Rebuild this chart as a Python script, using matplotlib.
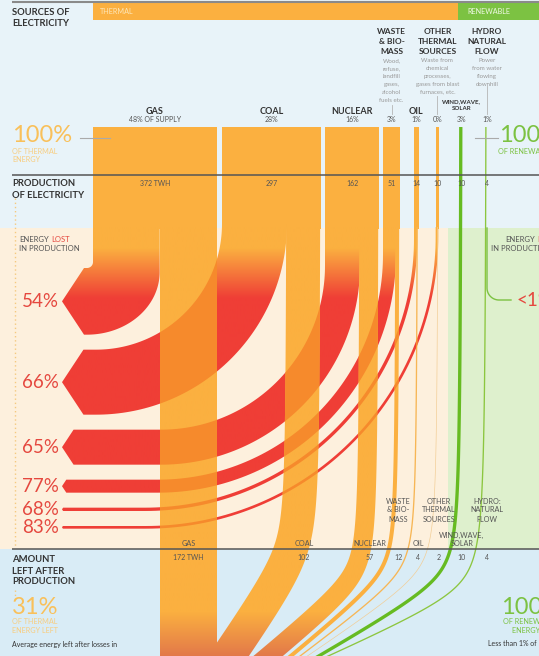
import numpy as np
import matplotlib
matplotlib.use("Agg")
import matplotlib.pyplot as plt
from matplotlib.path import Path
from matplotlib.patches import PathPatch, Rectangle
from matplotlib.colors import to_rgb

plt.rcParams['font.family'] = ['Lato', 'DejaVu Sans']

# ---------------- data ----------------
top_names = [["GAS"], ["COAL"], ["NUCLEAR"], ["WASTE", "& BIO-", "MASS"], ["OIL"],
             ["OTHER", "THERMAL", "SOURCES"], ["WIND,WAVE,", "SOLAR"], ["HYDRO", "NATURAL", "FLOW"]]
bottom_names = [["GAS"], ["COAL"], ["NUCLEAR"], ["WASTE", "& BIO-", "MASS"], ["OIL"],
                ["OTHER", "THERMAL", "SOURCES"], ["WIND,WAVE,", "SOLAR"], ["HYDRO:", "NATURAL", "FLOW"]]
supply_share = ["48% OF SUPPLY", "28%", "16%", "3%", "1%", "0%", "3%", "1%"]
production_twh = [372, 297, 162, 51, 14, 10, 10, 4]
remaining_twh = [172, 102, 57, 12, 4, 2, 10, 4]
loss_pct = [54, 66, 65, 77, 68, 83]
production_labels = ["372 TWH", "297", "162", "51", "14", "10", "10", "4"]
remaining_labels = ["172 TWH", "102", "57", "12", "4", "2", "10", "4"]
descriptions = {
    3: ["Wood,", "refuse,", "landfill", "gases,", "alcohol", "fuels etc."],
    5: ["Waste from", "chemical", "processes,", "gases from blast", "furnaces, etc."],
    7: ["Power", "from water", "flowing", "downhill"],
}

# ---------------- layout ----------------
W, H = 539, 656
PX = 1 / 3.0            # pixels per TWh
X0 = 93
gaps = [5, 4, 4, 14, 17, 21, 23]
Y_BAR, Y_PROD, Y_SPLIT, Y_LEFT = 127, 175, 228, 549
TIP_X = 62
arc_cx = [None, 96, 161, 158, 145, 146]
bend_y = [None, 552, 576, 572, 572, 572, 578, 590]
end_x = [None, 214, 262, 292, 303, 311, 322, 335]
bend_k = [None, 40, 30, 30, 30, 30, 30, 30]

ORANGE = '#fbb040'
RED = '#ef3e36'
OVER = '#f68a2c'
LABEL_RED = '#e5483f'
GREEN = '#7cc242'
strand_cols = [ORANGE, ORANGE, ORANGE, ORANGE, '#f7b655', '#f2cd95', '#66bb22', '#8cc63f']

widths = [v * PX for v in production_twh]
xl = [X0]
for g, w in zip(gaps, widths[:-1]):
    xl.append(xl[-1] + w + g)
loss_w = [(p - r) * PX for p, r in zip(production_twh[:6], remaining_twh[:6])]
y_tops = []
yy = 268
for w in loss_w:
    y_tops.append(yy)
    yy += w + 15

fig = plt.figure(figsize=(W / 100, H / 100), dpi=100)
fig.patch.set_facecolor('#e8f3f9')
ax = fig.add_axes([0, 0, 1, 1])
ax.set_xlim(0, W)
ax.set_ylim(H, 0)
ax.axis('off')
ax.set_autoscale_on(False)


def gradient_fill(patch, y0, y1, c0, c1, z):
    ax.add_patch(patch)
    ys = np.arange(H + 1, dtype=float)
    t = np.clip((ys - y0) / (y1 - y0), 0, 1)[:, None]
    a, b = np.array(to_rgb(c0)), np.array(to_rgb(c1))
    img = (a[None, :] * (1 - t) + b[None, :] * t)[:, None, :]
    img = np.repeat(img, 2, axis=1)
    im = ax.imshow(img, extent=(0, W, H, 0), origin='upper', aspect='auto',
                   interpolation='bilinear', zorder=z)
    im.set_clip_path(patch)
    return im


# ---------------- background ----------------
ax.add_patch(Rectangle((0, Y_SPLIT), 448, Y_LEFT - Y_SPLIT, fc='#fdf0dd', ec='none', zorder=0))
ax.add_patch(Rectangle((448, Y_SPLIT), W - 448, Y_LEFT - Y_SPLIT, fc='#def0cd', ec='none', zorder=0))
ax.add_patch(Rectangle((0, Y_LEFT), W, H - Y_LEFT, fc='#d9ecf6', ec='none', zorder=0))
ax.add_patch(Rectangle((93, 3), 458 - 93, 17, fc=ORANGE, ec='none', zorder=1))
ax.add_patch(Rectangle((458, 3), W - 458, 17, fc=GREEN, ec='none', zorder=1))
ax.plot([12, W], [1.5, 1.5], color='#8a8a8a', lw=1.5, zorder=2, solid_capstyle='butt')

# ---------------- full bars (thermal) ----------------
for i in range(6):
    ax.add_patch(Rectangle((xl[i], Y_BAR), widths[i], Y_SPLIT - Y_BAR + 1, fc=ORANGE, ec='none', zorder=2))

# ---------------- loss bands ----------------
th = np.linspace(0, np.pi / 2, 80)
band_paths = []
for i in range(6):
    xin = xl[i]
    xout = xin + loss_w[i]
    yt = y_tops[i]
    yb = yt + loss_w[i]
    if i == 0:
        cxi, cyi, rxi, ryi = 87, 262, xin - 87, yt - 262
        cxo, cyo, rxo, ryo = 87, 272, xout - 87, yb - 272
    else:
        cx = arc_cx[i]
        r_in = xin - cx
        cy = yt - r_in
        cxi = cxo = cx
        cyi = cyo = cy
        rxi = ryi = r_in
        rxo = ryo = xout - cx
    corner = TIP_X + min(0.33 * loss_w[i], 22)
    ym = (yt + yb) / 2
    pts = [(xin, Y_SPLIT - 1), (xin, cyi)]
    pts += list(zip(cxi + rxi * np.cos(th), cyi + ryi * np.sin(th)))
    pts += [(corner, yt), (TIP_X, ym), (corner, yb)]
    pts += list(zip(cxo + rxo * np.cos(th[::-1]), cyo + ryo * np.sin(th[::-1])))
    pts += [(xout, cyo), (xout, Y_SPLIT - 1), (xin, Y_SPLIT - 1)]
    path = Path(pts, closed=True)
    band_paths.append(path)
    bp = PathPatch(path, fc='none', ec='none', transform=ax.transData)
    gradient_fill(bp, 248, 298, ORANGE, RED, 3)
    ax.text(22, ym, f"{loss_pct[i]}%", fontsize=13.5, color=LABEL_RED, ha='left',
            va='center', zorder=8)

# ---------------- remaining strands ----------------
strand_patches = []
for i in range(8):
    L = xl[i] + (loss_w[i] if i < 6 else 0)
    w = remaining_twh[i] * PX
    c0 = L + w / 2
    y_start = Y_SPLIT - 1 if i < 6 else Y_BAR
    ys = np.linspace(y_start, H + 10, 500)
    if bend_y[i] is None:
        xs = np.full_like(ys, c0)
    else:
        slope = (end_x[i] + w / 2 - c0) / (H - bend_y[i])
        t = ys - bend_y[i]
        k = bend_k[i]
        xs = c0 + slope * 0.5 * (t + np.sqrt(t * t + k * k))
    dx = np.gradient(xs)
    dy = np.gradient(ys)
    n = np.hypot(dx, dy)
    nx, ny = dy / n, -dx / n
    left = np.c_[xs - nx * w / 2, ys - ny * w / 2]
    right = np.c_[xs + nx * w / 2, ys + ny * w / 2]
    left[0, 1] = y_start
    right[0, 1] = y_start
    poly = np.vstack([left, right[::-1], left[:1]])
    path = Path(poly, closed=True)
    if i < 3:
        sp = PathPatch(path, fc='none', ec='none', transform=ax.transData)
        gradient_fill(sp, 612, 668, ORANGE, '#dc6a4c', 4)
    else:
        sp = PathPatch(path, fc=strand_cols[i], ec='none', transform=ax.transData, zorder=4)
        ax.add_patch(sp)
    strand_patches.append(sp)

# overlaps: loss band passing behind remaining strands
for i in range(1, 6):
    for j in range(0, i):
        op = PathPatch(band_paths[i], fc=OVER, ec='none', zorder=5)
        ax.add_patch(op)
        op.set_clip_path(strand_patches[j])

# hydro <1% branch
hx = xl[7] + widths[7] / 2
ang = np.linspace(np.pi, np.pi / 2, 20)
bx = [hx, hx] + list(hx + 12 + 12 * np.cos(ang)) + [511]
by = [Y_SPLIT, 288] + list(288 + 12 * np.sin(ang)) + [300]
ax.plot(bx, by, color=GREEN, lw=1, zorder=5)
ax.text(516, 301, "<1%", fontsize=13.5, color=LABEL_RED, ha='left', va='center', zorder=8)

# ---------------- rules ----------------
for y in (Y_PROD, Y_LEFT):
    ax.plot([12, W], [y, y], color='#555555', lw=1.1, zorder=6, solid_capstyle='butt')
ax.plot([15, 15], [198, 546], color='#f5c97f', lw=1, ls=(0, (1, 2)), zorder=1)
ax.plot([15, 15], [590, 602], color='#f5c97f', lw=1, ls=(0, (1, 2)), zorder=1)
ax.plot([80, 110], [138, 138], color='#aaaaaa', lw=0.8, zorder=6)
ax.plot([475, 498], [138, 138], color='#aaaaaa', lw=0.8, zorder=6)
conn = {3: (105, 114), 5: (96, 114), 7: (86, 114)}


def txt(x, y, s, size, color='#333333', weight='normal', ha='center', **kw):
    return ax.text(x, y, s, fontsize=size, color=color, fontweight=weight, ha=ha,
                   va='center', zorder=8, **kw)


# ---------------- labels per source ----------------
for i in range(8):
    xc_top = xl[i] + widths[i] / 2
    names = top_names[i]
    if len(names) == 3:
        for k, s in enumerate(names):
            txt(xc_top, 32 + 9.7 * k, s, 6, weight='bold')
    elif len(names) == 2:
        txt(xc_top, 102, names[0], 4.4, weight='bold')
        txt(xc_top, 108.5, names[1], 4.4, weight='bold')
    else:
        txt(xc_top, 112, names[0], 6.5, weight='bold')
    txt(xc_top, 120, supply_share[i], 5, color='#555555')
    if i in descriptions:
        for k, s in enumerate(descriptions[i]):
            txt(xc_top, 60.5 + 7.9 * k, s, 4.4, color='#9a9a9a')
        y0c, y1c = conn[i]
        ax.plot([xc_top, xc_top], [y0c, y1c], color='#b5b5b5', lw=0.6, zorder=6)
    txt(xc_top, 184, production_labels[i], 5, color='#555555')

    L = xl[i] + (loss_w[i] if i < 6 else 0)
    xc_bot = L + remaining_twh[i] * PX / 2
    bn = bottom_names[i]
    if len(bn) == 3:
        for k, s in enumerate(bn):
            txt(xc_bot, 501 + 9 * k, s, 5.2, color='#555555')
    elif len(bn) == 2:
        txt(xc_bot, 535, bn[0], 5.2, color='#555555')
        txt(xc_bot, 544, bn[1], 5.2, color='#555555')
    else:
        txt(xc_bot, 544, bn[0], 5.2, color='#555555')
    txt(xc_bot, 558, remaining_labels[i], 5, color='#555555')

# ---------------- section texts ----------------
txt(100, 12, "THERMAL", 5.2, color='#fde6b8', ha='left')
txt(467, 12, "RENEWABLE", 5.2, color='#eef8e4', ha='left')
txt(12, 12.5, "SOURCES OF", 6.8, weight='bold', ha='left')
txt(12, 23.5, "ELECTRICITY", 6.8, weight='bold', ha='left')
txt(12, 136, "100%", 17, color='#f9c05a', ha='left')
txt(12, 152, "OF THERMAL", 5.2, color='#f8cd80', ha='left')
txt(12, 160, "ENERGY", 5.2, color='#f8cd80', ha='left')
txt(499, 136, "100%", 17, color=GREEN, ha='left')
txt(498, 152, "OF RENEWABLE", 5.2, color=GREEN, ha='left')
txt(12, 183.5, "PRODUCTION", 6.8, weight='bold', ha='left')
txt(12, 195.5, "OF ELECTRICITY", 6.8, weight='bold', ha='left')

t1 = txt(19, 239, "ENERGY", 5.5, color='#555555', ha='left')
ax.annotate("LOST", xy=(1, 0), xycoords=t1, xytext=(2, 0), textcoords='offset points',
            fontsize=5.5, color=LABEL_RED, ha='left', va='bottom', zorder=8)
txt(19, 248.5, "IN PRODUCTION", 5.5, color='#555555', ha='left')
t2 = txt(505, 239, "ENERGY", 5.5, color='#555555', ha='left')
ax.annotate("LOST", xy=(1, 0), xycoords=t2, xytext=(2, 0), textcoords='offset points',
            fontsize=5.5, color=LABEL_RED, ha='left', va='bottom', zorder=8)
txt(491, 248.5, "IN PRODUCTION", 5.5, color='#555555', ha='left')

txt(12, 560, "AMOUNT", 6.8, weight='bold', ha='left')
txt(12, 571, "LEFT AFTER", 6.8, weight='bold', ha='left')
txt(12, 582, "PRODUCTION", 6.8, weight='bold', ha='left')
txt(12, 607, "31%", 17, color='#f9c05a', ha='left')
txt(12, 622, "OF THERMAL", 5.2, color='#f8cd80', ha='left')
txt(12, 630.5, "ENERGY LEFT", 5.2, color='#f8cd80', ha='left')
txt(12, 644, "Average energy left after losses in", 5, color='#333333', ha='left')
txt(501, 607, "100%", 17, color=GREEN, ha='left')
txt(503, 622, "OF RENEWABLE", 5.2, color=GREEN, ha='left')
txt(512, 630.5, "ENERGY LEFT", 5.2, color=GREEN, ha='left')
txt(488, 644, "Less than 1% of", 5, color='#333333', ha='left')

ax.set_xlim(0, W)
ax.set_ylim(H, 0)
fig.savefig("out.png", dpi=100, facecolor=fig.get_facecolor())
